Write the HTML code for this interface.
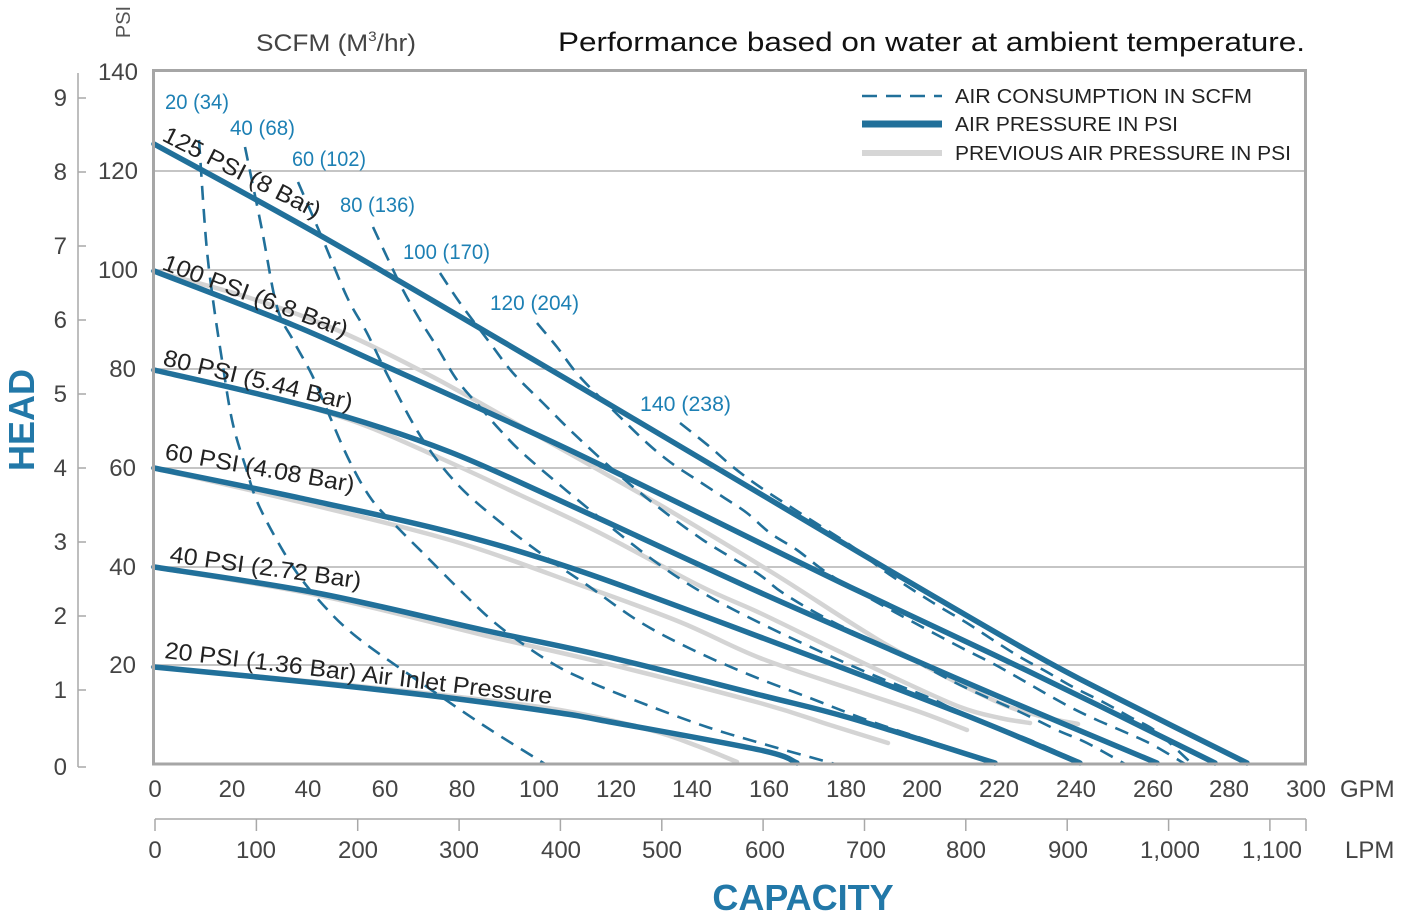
<!DOCTYPE html>
<html><head><meta charset="utf-8"><style>
html,body{margin:0;padding:0;background:#fff;}
svg{display:block;}
text{font-family:"Liberation Sans",Arial,sans-serif;}
</style></head><body>
<svg id="ch" width="1401" height="917" viewBox="0 0 1401 917" xmlns="http://www.w3.org/2000/svg">
<rect width="1401" height="917" fill="#fff"/>
<text x="131" y="22" font-size="20" fill="#555" text-anchor="middle" transform="rotate(-90 131 22)" dy="-1">PSI</text>
<text x="256" y="51" font-size="24" fill="#444" textLength="160" lengthAdjust="spacingAndGlyphs">SCFM (M<tspan font-size="14" dy="-10">3</tspan><tspan dy="10">/hr)</tspan></text>
<text x="558" y="51" font-size="27" fill="#111" textLength="747" lengthAdjust="spacingAndGlyphs">Performance based on water at ambient temperature.</text>

<g stroke="#a8a8a8" stroke-width="1.5" fill="none">
<line x1="78" y1="73" x2="78" y2="767"/>
<line x1="78" y1="98" x2="86" y2="98"/><line x1="78" y1="172" x2="86" y2="172"/><line x1="78" y1="246" x2="86" y2="246"/><line x1="78" y1="320" x2="86" y2="320"/><line x1="78" y1="394" x2="86" y2="394"/><line x1="78" y1="468" x2="86" y2="468"/><line x1="78" y1="542" x2="86" y2="542"/><line x1="78" y1="616" x2="86" y2="616"/><line x1="78" y1="690" x2="86" y2="690"/><line x1="78" y1="767" x2="86" y2="767"/>
</g>
<g font-size="24" fill="#444" text-anchor="end">
<text x="67" y="106">9</text><text x="67" y="180">8</text><text x="67" y="254">7</text><text x="67" y="328">6</text><text x="67" y="402">5</text><text x="67" y="476">4</text><text x="67" y="550">3</text><text x="67" y="624">2</text><text x="67" y="698">1</text><text x="67" y="775">0</text>
</g>
<g font-size="24" fill="#444" text-anchor="end">
<text x="138" y="80">140</text><text x="138" y="179">120</text><text x="138" y="278">100</text><text x="136" y="377">80</text><text x="136" y="476">60</text><text x="136" y="575">40</text><text x="136" y="673">20</text>
</g>
<text x="34" y="420" font-size="36" font-weight="bold" fill="#2278a8" text-anchor="middle" transform="rotate(-90 34 420)">HEAD</text>

<g stroke="#b2b2b2" stroke-width="1.5">
<line x1="155" y1="171" x2="1305" y2="171"/><line x1="155" y1="270" x2="1305" y2="270"/><line x1="155" y1="369" x2="1305" y2="369"/><line x1="155" y1="468" x2="1305" y2="468"/><line x1="155" y1="567" x2="1305" y2="567"/><line x1="155" y1="665" x2="1305" y2="665"/>
</g>

<rect x="845" y="74" width="458" height="95" fill="#fff"/>
<line x1="862" y1="96" x2="942" y2="96" stroke="#21709a" stroke-width="2.5" stroke-dasharray="15,9"/>
<line x1="862" y1="124" x2="942" y2="124" stroke="#21709a" stroke-width="7"/>
<line x1="862" y1="153" x2="942" y2="153" stroke="#d6d6d6" stroke-width="6"/>
<g font-size="20" fill="#222">
<text x="955" y="103" textLength="297" lengthAdjust="spacingAndGlyphs">AIR CONSUMPTION IN SCFM</text>
<text x="955" y="131" textLength="223" lengthAdjust="spacingAndGlyphs">AIR PRESSURE IN PSI</text>
<text x="955" y="160" textLength="336" lengthAdjust="spacingAndGlyphs">PREVIOUS AIR PRESSURE IN PSI</text>
</g>

<g fill="none" stroke="#d4d4d4" stroke-width="4.5" stroke-linejoin="round" stroke-linecap="round">
<polyline class="s" points="154,144 330,241 580,387 860,553 1030,652 1117,698 1247,763"/>
<polyline class="s" points="153,271 250,298 337,330 433,377 540,437 660,505 773,573 887,645 993,700 1040,716 1078,724"/>
<polyline class="s" points="153,370 250,392 350,420 440,458 520,495 600,533 700,586 760,613 830,647 893,677 960,707 1000,718 1030,723"/>
<polyline class="s" points="153,468 300,502 450,540 580,585 680,622 760,658 860,692 920,712 967,730"/>
<polyline class="s" points="153,567 317,595 483,635 600,662 760,703 830,725 888,743"/>
<polyline class="s" points="153,667 317,682 450,696 560,710 650,730 700,747 737,762"/>
</g>

<g fill="none" stroke="#21709a" stroke-width="2.6" stroke-dasharray="14,9" stroke-linejoin="round">
<polyline class="s" points="199,140 206,240 213,300 222,360 232,420 245,465 260,508 293,567 325,607 358,638 417,680 483,725 545,764"/>
<polyline class="s" points="245,147 262,230 277,307 293,340 312,375 330,417 350,462 372,500 400,530 423,553 463,593 500,627 550,662 590,682 647,705 707,727 767,745 835,764"/>
<polyline class="s" points="298,182 323,240 347,297 367,333 390,380 423,440 460,487 510,530 550,560 587,585 640,622 693,650 750,675 810,698 867,720 927,740 1000,764"/>
<polyline class="s" points="373,227 387,257 403,290 420,320 437,347 457,380 480,407 500,430 527,457 590,510 653,560 703,593 760,623 817,650 873,675 930,698 960,712 1030,740 1085,764"/>
<polyline class="s" points="440,273 460,303 490,343 513,373 543,403 570,430 610,467 653,503 703,540 757,573 783,593 833,622 903,655 960,685 1020,712 1057,730 1087,743 1125,764"/>
<polyline class="s" points="537,323 557,347 580,377 620,417 647,443 670,462 697,480 723,497 747,513 770,533 797,550 823,570 850,587 900,615 960,647 990,662 1017,677 1043,692 1070,707 1097,720 1127,733 1153,745 1185,764"/>
<polyline class="s" points="680,423 710,447 733,467 760,487 800,513 850,545 883,570 913,590 940,607 967,623 993,640 1020,657 1047,672 1073,687 1103,702 1130,717 1157,732 1190,762"/>
</g>

<g fill="none" stroke="#21709a" stroke-width="5.5" stroke-linejoin="round" stroke-linecap="round">
<polyline class="s" points="154,144 330,241 580,387 860,553 1030,652 1117,698 1247,763"/>
<polyline class="s" points="154,271 293,325 383,365 483,410 580,455 693,510 850,587 1030,672 1215,763"/>
<polyline class="s" points="154,370 250,392 350,418 450,452 550,496 650,542 750,588 850,632 1000,697 1157,763"/>
<polyline class="s" points="154,468 300,498 450,532 580,571 760,637 960,713 1080,763"/>
<polyline class="s" points="154,567 317,593 483,630 600,655 760,695 850,718 995,763"/>
<polyline class="s" points="154,667 317,683 450,698 560,713 600,720 760,750 797,763"/>
</g>

<rect x="153.5" y="70.5" width="1152" height="693.5" fill="none" stroke="#a6a6a6" stroke-width="3"/>

<g font-size="21" fill="#1d80b4">
<text x="165" y="109" textLength="64" lengthAdjust="spacingAndGlyphs">20 (34)</text>
<text x="230" y="135" textLength="65" lengthAdjust="spacingAndGlyphs">40 (68)</text>
<text x="292" y="166" textLength="74" lengthAdjust="spacingAndGlyphs">60 (102)</text>
<text x="340" y="212" textLength="75" lengthAdjust="spacingAndGlyphs">80 (136)</text>
<text x="403" y="259" textLength="87" lengthAdjust="spacingAndGlyphs">100 (170)</text>
<text x="490" y="310" textLength="89" lengthAdjust="spacingAndGlyphs">120 (204)</text>
<text x="640" y="411" textLength="91" lengthAdjust="spacingAndGlyphs">140 (238)</text>
</g>

<g font-size="23.5" fill="#222">
<text x="161" y="140" transform="rotate(27 161 140)" textLength="174" lengthAdjust="spacingAndGlyphs">125 PSI (8 Bar)</text>
<text x="161" y="269" transform="rotate(20.5 161 269)" textLength="196" lengthAdjust="spacingAndGlyphs">100 PSI (6.8 Bar)</text>
<text x="162" y="365" transform="rotate(13.5 162 365)" textLength="194" lengthAdjust="spacingAndGlyphs">80 PSI (5.44 Bar)</text>
<text x="164" y="459" transform="rotate(10 164 459)" textLength="192" lengthAdjust="spacingAndGlyphs">60 PSI (4.08 Bar)</text>
<text x="169" y="562" transform="rotate(7.9 169 562)" textLength="193" lengthAdjust="spacingAndGlyphs">40 PSI (2.72 Bar)</text>
<text x="164" y="658" transform="rotate(6.8 164 658)" textLength="390" lengthAdjust="spacingAndGlyphs">20 PSI (1.36 Bar) Air Inlet Pressure</text>
</g>

<g font-size="24" fill="#444" text-anchor="middle">
<text x="155" y="797">0</text><text x="232" y="797">20</text><text x="308" y="797">40</text><text x="385" y="797">60</text><text x="462" y="797">80</text><text x="539" y="797">100</text><text x="616" y="797">120</text><text x="692" y="797">140</text><text x="769" y="797">160</text><text x="846" y="797">180</text><text x="922" y="797">200</text><text x="999" y="797">220</text><text x="1076" y="797">240</text><text x="1153" y="797">260</text><text x="1229" y="797">280</text><text x="1306" y="797">300</text>
</g>
<text x="1340" y="797" font-size="24" fill="#444">GPM</text>

<g stroke="#a8a8a8" stroke-width="1.5">
<line x1="155" y1="819" x2="1306" y2="819"/>
<line x1="155" y1="819" x2="155" y2="831"/><line x1="256.4" y1="819" x2="256.4" y2="831"/><line x1="357.7" y1="819" x2="357.7" y2="831"/><line x1="459.1" y1="819" x2="459.1" y2="831"/><line x1="560.4" y1="819" x2="560.4" y2="831"/><line x1="661.8" y1="819" x2="661.8" y2="831"/><line x1="763.1" y1="819" x2="763.1" y2="831"/><line x1="864.5" y1="819" x2="864.5" y2="831"/><line x1="965.8" y1="819" x2="965.8" y2="831"/><line x1="1067.2" y1="819" x2="1067.2" y2="831"/><line x1="1168.6" y1="819" x2="1168.6" y2="831"/><line x1="1269.9" y1="819" x2="1269.9" y2="831"/><line x1="1306" y1="819" x2="1306" y2="831"/>
</g>
<g font-size="24" fill="#444" text-anchor="middle">
<text x="155" y="858">0</text><text x="256" y="858">100</text><text x="358" y="858">200</text><text x="459" y="858">300</text><text x="561" y="858">400</text><text x="662" y="858">500</text><text x="765" y="858">600</text><text x="866" y="858">700</text><text x="966" y="858">800</text><text x="1068" y="858">900</text><text x="1170" y="858">1,000</text><text x="1272" y="858">1,100</text>
</g>
<text x="1345" y="858" font-size="24" fill="#444">LPM</text>
<text x="803" y="910" font-size="36" font-weight="bold" fill="#2278a8" text-anchor="middle">CAPACITY</text>
</svg>
<script>
(function(){
  var NS="http://www.w3.org/2000/svg";
  var els=document.querySelectorAll("polyline.s");
  for(var k=0;k<els.length;k++){
    var pl=els[k];
    var raw=pl.getAttribute("points").trim().split(/\s+/);
    var P=raw.map(function(s){var a=s.split(",");return [parseFloat(a[0]),parseFloat(a[1])];});
    var n=P.length;
    var d="M"+P[0][0]+","+P[0][1];
    for(var i=0;i<n-1;i++){
      var p0=P[i>0?i-1:i],p1=P[i],p2=P[i+1],p3=P[i+2<n?i+2:i+1];
      var c1x=p1[0]+(p2[0]-p0[0])/6,c1y=p1[1]+(p2[1]-p0[1])/6;
      var c2x=p2[0]-(p3[0]-p1[0])/6,c2y=p2[1]-(p3[1]-p1[1])/6;
      d+=" C"+c1x.toFixed(1)+","+c1y.toFixed(1)+" "+c2x.toFixed(1)+","+c2y.toFixed(1)+" "+p2[0]+","+p2[1];
    }
    var path=document.createElementNS(NS,"path");
    path.setAttribute("d",d);
    pl.parentNode.replaceChild(path,pl);
  }
})();
</script>
</body></html>
